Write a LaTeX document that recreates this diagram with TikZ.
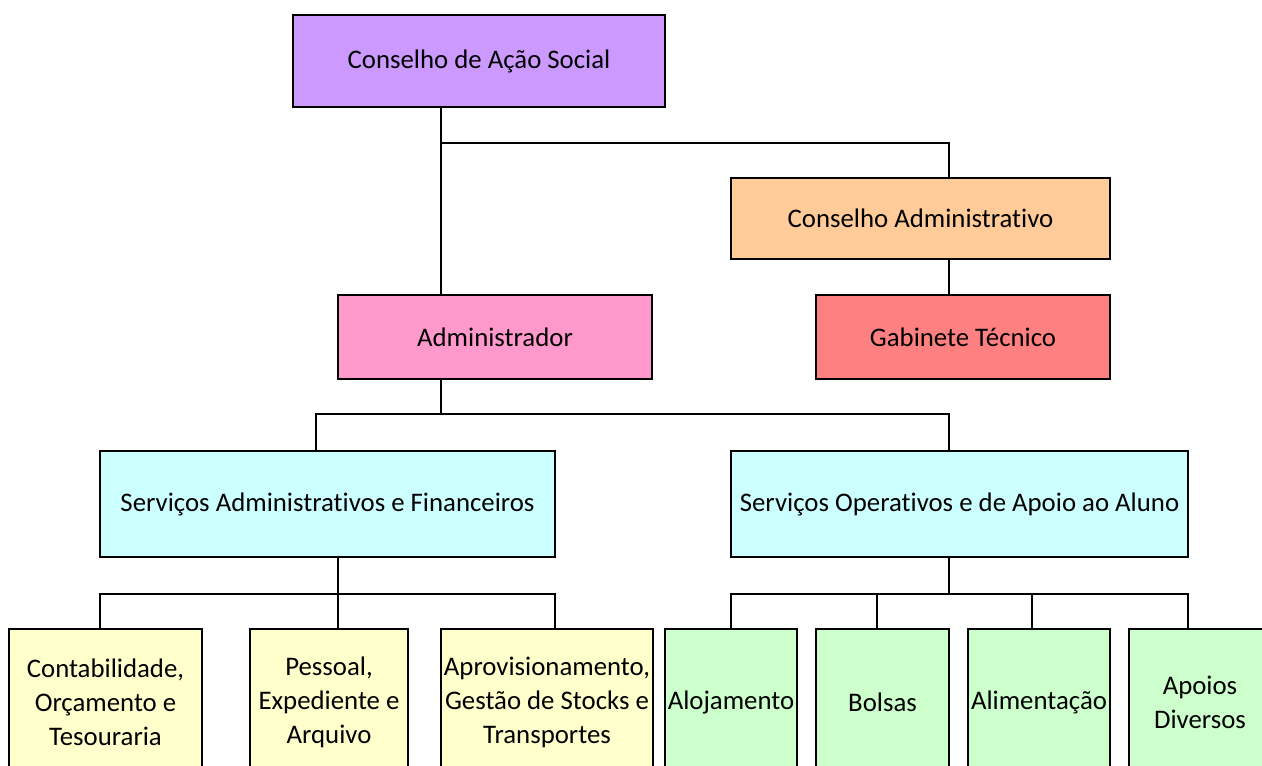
\documentclass[tikz,border=0pt]{standalone}
\usepackage{fontspec}
\setmainfont{Carlito}[Ligatures=NoCommon]
\usetikzlibrary{calc}
\definecolor{lilas}{HTML}{CC99FF}
\definecolor{laranja}{HTML}{FFCC99}
\definecolor{salmao}{HTML}{FF8080}
\definecolor{rosa}{HTML}{FF99CC}
\definecolor{ciano}{HTML}{CCFFFF}
\definecolor{amarelo}{HTML}{FFFFCC}
\definecolor{verde}{HTML}{CCFFCC}
\tikzset{
  caixa/.style={draw=black, line width=1pt, inner sep=0pt, align=center,
    font=\fontsize{13.4}{17}\selectfont},
  ligacao/.style={draw=black, line width=1pt},
}

\begin{document}
\begin{tikzpicture}[x=0.5pt,y=-0.5pt]
			%%%%% START %%%%%
			\useasboundingbox (0,0) rectangle (1262,765);
			
			\node[caixa, fill=lilas, minimum width=186pt, minimum height=46pt] (cas) at (479,61) {Conselho de Ação Social};
			\node[caixa, fill=laranja, minimum width=189.5pt, minimum height=40.5pt] (cadm) at (920.5,218.5) {Conselho Administrativo};
			\node[caixa, fill=salmao, minimum width=147pt, minimum height=42pt] (gab) at (963,337) {Gabinete Técnico};
			\node[caixa, fill=rosa, minimum width=157pt, minimum height=42pt] (adm) at (495,337) {Administrador};
			
			\node[caixa, fill=ciano, minimum width=227.5pt, minimum height=53pt] (saf) at (327.5,504) {Serviços Administrativos e Financeiros};
			\node[caixa, fill=ciano, minimum width=228.5pt, minimum height=53pt] (sop) at (959.5,504) {Serviços Operativos e de Apoio ao Aluno};
			
			\node[caixa, fill=amarelo, minimum width=96.5pt, minimum height=73pt] (cont) at (105.5,702) {Contabilidade,\\Orçamento e\\Tesouraria};
			\node[caixa, fill=amarelo, minimum width=79pt, minimum height=73pt] (pess) at (329,702) {Pessoal,\\Expediente e\\Arquivo};
			\node[caixa, fill=amarelo, minimum width=106pt, minimum height=73pt] (aprov) at (547,702) {Aprovisionamento,\\Gestão de Stocks e\\Transportes};
			
			\node[caixa, fill=verde, minimum width=66pt, minimum height=73pt] (aloj) at (731,702) {Alojamento};
			\node[caixa, fill=verde, minimum width=66.5pt, minimum height=73pt] (bols) at (882.5,702) {Bolsas};
			\node[caixa, fill=verde, minimum width=71pt, minimum height=73pt] (alim) at (1039,702) {Alimentação};
			\node[caixa, fill=verde, minimum width=71pt, minimum height=73pt] (apoi) at (1200,702) {Apoios\\Diversos};
			
			% topo
			\coordinate (j1) at (441,143);
			\coordinate (j2) at (949,143);
			\draw[ligacao] (j1 |- cas.south) -- (j1 |- adm.north);
			\draw[ligacao] (j1) -- (j2) -- (j2 |- cadm.north);
			\draw[ligacao] (j2 |- cadm.south) -- (j2 |- gab.north);
			
			% administrador
			\coordinate (j3) at (441,414);
			\coordinate (j3e) at (316,414);
			\coordinate (j3d) at (949,414);
			\draw[ligacao] (j3 |- adm.south) -- (j3);
			\draw[ligacao] (j3e |- saf.north) -- (j3e) -- (j3d) -- (j3d |- sop.north);
			
			% servicos administrativos
			\coordinate (j4) at (338,594);
			\coordinate (j4e) at (100,594);
			\coordinate (j4d) at (555,594);
			\draw[ligacao] (j4 |- saf.south) -- (j4 |- pess.north);
			\draw[ligacao] (j4e |- cont.north) -- (j4e) -- (j4d) -- (j4d |- aprov.north);
			
			% servicos operativos
			\coordinate (j5) at (949,594);
			\coordinate (j5b) at (877,594);
			\coordinate (j5c) at (1032,594);
			\coordinate (j5d) at (1188,594);
			\draw[ligacao] (j5 |- sop.south) -- (j5);
			\draw[ligacao] (aloj.north) |- (j5d) -- (j5d |- apoi.north);
			\draw[ligacao] (j5b) -- (j5b |- bols.north);
			\draw[ligacao] (j5c) -- (j5c |- alim.north);
			%%%%% END %%%%%
\end{tikzpicture}
\end{document}
